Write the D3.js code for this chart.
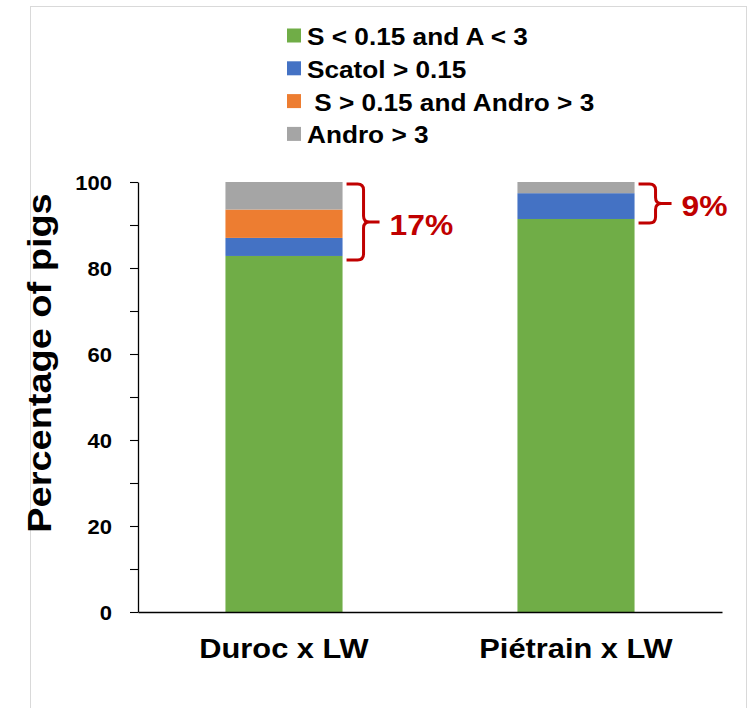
<!DOCTYPE html>
<html>
<head>
<meta charset="utf-8">
<script src="https://cdn.jsdelivr.net/npm/d3@7"></script>
<style>
  html, body { margin: 0; padding: 0; background: #fff; }
  svg { display: block; }
  text { font-family: "Liberation Sans", Arial, sans-serif; font-weight: bold; white-space: pre; }
</style>
</head>
<body>
<svg id="chart" width="753" height="708"></svg>
<script>
// Crosses and the share of pigs in each odour class (%)
const categories = ["Duroc x LW", "Piétrain x LW"];
const seriesNames = ["S < 0.15 and A < 3", "Scatol > 0.15", " S > 0.15 and Andro > 3", "Andro > 3"];
const okValues = [82.8, 91.4];       // S < 0.15 and A < 3
const scatolValues = [4.2, 6.0];     // Scatol > 0.15
const bothValues = [6.6, 0];         // S > 0.15 and Andro > 3
const androValues = [6.4, 2.6];      // Andro > 3
const yTicks = [0, 10, 20, 30, 40, 50, 60, 70, 80, 90, 100];
const yLabelTicks = [0, 20, 40, 60, 80, 100];
const colors = ["#70ad47", "#4472c4", "#ed7d31", "#a5a5a5"];
const red = "#c00000";

const svg = d3.select("#chart");

// Frame around the chart area
svg.append("rect")
  .attr("x", 30.5).attr("y", 6.5)
  .attr("width", 716).attr("height", 720)
  .attr("fill", "#fff").attr("stroke", "#d9d9d9").attr("stroke-width", 1);

const x = d3.scaleBand().domain(categories).range([138, 722])
  .paddingInner(0.599).paddingOuter(0.2995);
const y = d3.scaleLinear().domain([0, 100]).range([612, 182]);

// Text with a slight horizontal widening, placed by a transform
function wideText(g, tx, ty, sx, rotate) {
  const t = g.append("text");
  t.attr("transform", `translate(${tx},${ty})` + (rotate ? ` rotate(${rotate})` : "") + ` scale(${sx},1)`);
  return t;
}

// Stacked data
const rows = categories.map((c, i) => ({
  cat: c, s0: okValues[i], s1: scatolValues[i], s2: bothValues[i], s3: androValues[i]
}));
const stack = d3.stack().keys(["s0", "s1", "s2", "s3"])(rows);

const barG = svg.append("g");
stack.forEach((layer, li) => {
  barG.selectAll(null).data(layer).enter().append("rect")
    .attr("x", d => x(d.data.cat))
    .attr("width", x.bandwidth())
    .attr("y", d => y(d[1]))
    .attr("height", d => Math.max(0, y(d[0]) - y(d[1])))
    .attr("fill", colors[li]);
});

// Y axis: ticks every 10, labels every 20
const yAxis = svg.append("g").attr("transform", "translate(138,0)")
  .call(d3.axisLeft(y).tickValues(yTicks).tickSize(8).tickSizeOuter(0)
    .tickFormat(d => yLabelTicks.includes(d) ? d : ""));
yAxis.select(".domain").attr("stroke", "#000").attr("stroke-width", 1.3);
yAxis.selectAll(".tick line").attr("stroke", "#000").attr("stroke-width", 1.1);
yAxis.selectAll(".tick text")
  .attr("x", 0).attr("dy", "0.36em")
  .attr("transform", "translate(-26,0) scale(1.1,1)")
  .attr("font-size", 20).attr("font-weight", "bold").attr("fill", "#000")
  .attr("font-family", "Liberation Sans, Arial, sans-serif");

// X axis
const xAxis = svg.append("g").attr("transform", "translate(0,612)")
  .call(d3.axisBottom(x).tickSize(0).tickSizeOuter(0));
xAxis.select(".domain").attr("stroke", "#000").attr("stroke-width", 1.3);
xAxis.selectAll(".tick text")
  .attr("y", 0).attr("dy", 0)
  .attr("transform", "translate(0,46) scale(1.1,1)")
  .attr("font-size", 28).attr("font-weight", "bold").attr("fill", "#000")
  .attr("font-family", "Liberation Sans, Arial, sans-serif");

// Y title
wideText(svg, 50.5, 363, 1.15, -90)
  .attr("text-anchor", "middle").attr("font-size", 33).attr("fill", "#000")
  .text("Percentage of pigs");

// Legend
const legend = svg.append("g");
seriesNames.forEach((name, i) => {
  const base = 45 + i * 32.8;
  legend.append("rect")
    .attr("x", 287).attr("y", base - 16.5).attr("width", 14).attr("height", 14)
    .attr("fill", colors[i]);
  wideText(legend, 307, base, 1.125)
    .attr("font-size", 23.3).attr("fill", "#000")
    .text(name);
});

// Braces marking the off-flavour share above the clean segment
const braceG = svg.append("g");
rows.forEach((r, i) => {
  const x0 = x(r.cat) + x.bandwidth() + 4;
  const x1 = x0 + 17;
  const x2 = x1 + 16;
  const yTop = y(100) + 2;
  const yBot = y(r.s0) + 4;
  const ym = (yTop + yBot) / 2;
  const rr = 6;
  const p = d3.path();
  p.moveTo(x0, yTop);
  p.lineTo(x1 - rr, yTop);
  p.quadraticCurveTo(x1, yTop, x1, yTop + rr);
  p.lineTo(x1, ym - rr);
  p.quadraticCurveTo(x1, ym, x1 + rr, ym);
  p.lineTo(x2, ym);
  p.moveTo(x1 + rr, ym);
  p.quadraticCurveTo(x1, ym, x1, ym + rr);
  p.lineTo(x1, yBot - rr);
  p.quadraticCurveTo(x1, yBot, x1 - rr, yBot);
  p.lineTo(x0, yBot);
  braceG.append("path").attr("d", p.toString())
    .attr("fill", "none").attr("stroke", red).attr("stroke-width", 3);
  const share = Math.round(r.s1 + r.s2 + r.s3);
  wideText(braceG, x2 + 10, ym + 13, 1.06)
    .attr("font-size", 30).attr("fill", red)
    .text(share + "%");
});
</script>
</body>
</html>
